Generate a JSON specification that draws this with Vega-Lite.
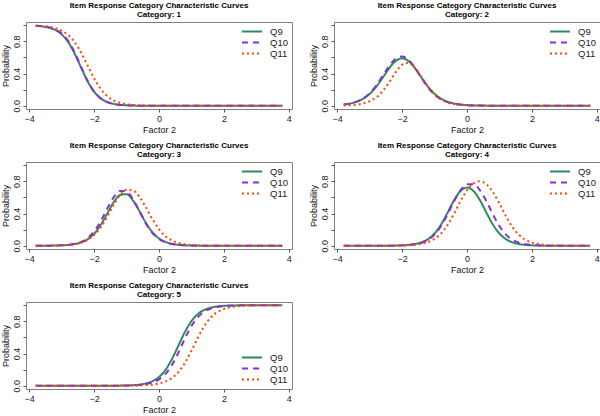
{
  "$schema": "https://vega.github.io/schema/vega-lite/v6.json",
  "background": "white",
  "padding": {"left": 0, "top": 1, "right": 2, "bottom": 0},
  "config": {
    "font": "Liberation Sans",
    "view": {"stroke": "#808080", "strokeWidth": 1},
    "title": {"fontSize": 8, "fontWeight": "bold", "font": "Liberation Sans", "color": "#000000", "lineHeight": 9.5, "offset": 3, "anchor": "middle"},
    "axis": {"grid": false, "domain": false, "tickColor": "#555555", "tickSize": 3, "labelFontSize": 9, "labelColor": "#222222", "labelPadding": 2, "titleFontSize": 9, "titleFontWeight": "normal", "titleColor": "#111111", "titlePadding": 2},
    "legend": {"title": null, "symbolType": "stroke", "symbolSize": 400, "symbolStrokeWidth": 2, "labelFontSize": 9.5, "labelColor": "#222222", "labelOffset": 7, "clipHeight": 11, "rowPadding": 0, "padding": 0, "offset": 4}
  },
  "columns": 2,
  "spacing": {"row": 6, "column": 15},
  "resolve": {"legend": {"color": "independent", "strokeDash": "independent"}},
  "datasets": {
    "d": [
      {"c":1,"s":"Q9","x":-3.8,"p":0.993},{"c":1,"s":"Q9","x":-3.6,"p":0.985},{"c":1,"s":"Q9","x":-3.4,"p":0.970},{"c":1,"s":"Q9","x":-3.2,"p":0.941},{"c":1,"s":"Q9","x":-3.0,"p":0.886},{"c":1,"s":"Q9","x":-2.8,"p":0.791},{"c":1,"s":"Q9","x":-2.6,"p":0.648},{"c":1,"s":"Q9","x":-2.4,"p":0.473},{"c":1,"s":"Q9","x":-2.2,"p":0.304},{"c":1,"s":"Q9","x":-2.0,"p":0.175},{"c":1,"s":"Q9","x":-1.8,"p":0.094},{"c":1,"s":"Q9","x":-1.6,"p":0.048},{"c":1,"s":"Q9","x":-1.4,"p":0.024},{"c":1,"s":"Q9","x":-1.2,"p":0.012},{"c":1,"s":"Q9","x":-1.0,"p":0.006},{"c":1,"s":"Q9","x":-0.8,"p":0.003},{"c":1,"s":"Q9","x":-0.6,"p":0.001},{"c":1,"s":"Q9","x":-0.4,"p":0.001},{"c":1,"s":"Q9","x":-0.2,"p":0},{"c":1,"s":"Q9","x":3.8,"p":0},
      {"c":1,"s":"Q10","x":-3.8,"p":0.994},{"c":1,"s":"Q10","x":-3.6,"p":0.988},{"c":1,"s":"Q10","x":-3.4,"p":0.974},{"c":1,"s":"Q10","x":-3.2,"p":0.947},{"c":1,"s":"Q10","x":-3.0,"p":0.896},{"c":1,"s":"Q10","x":-2.8,"p":0.804},{"c":1,"s":"Q10","x":-2.6,"p":0.661},{"c":1,"s":"Q10","x":-2.4,"p":0.482},{"c":1,"s":"Q10","x":-2.2,"p":0.307},{"c":1,"s":"Q10","x":-2.0,"p":0.175},{"c":1,"s":"Q10","x":-1.8,"p":0.092},{"c":1,"s":"Q10","x":-1.6,"p":0.046},{"c":1,"s":"Q10","x":-1.4,"p":0.022},{"c":1,"s":"Q10","x":-1.2,"p":0.011},{"c":1,"s":"Q10","x":-1.0,"p":0.005},{"c":1,"s":"Q10","x":-0.8,"p":0.002},{"c":1,"s":"Q10","x":-0.6,"p":0.001},{"c":1,"s":"Q10","x":-0.4,"p":0.001},{"c":1,"s":"Q10","x":-0.2,"p":0},{"c":1,"s":"Q10","x":3.8,"p":0},
      {"c":1,"s":"Q11","x":-3.8,"p":0.995},{"c":1,"s":"Q11","x":-3.6,"p":0.990},{"c":1,"s":"Q11","x":-3.4,"p":0.981},{"c":1,"s":"Q11","x":-3.2,"p":0.964},{"c":1,"s":"Q11","x":-3.0,"p":0.933},{"c":1,"s":"Q11","x":-2.8,"p":0.879},{"c":1,"s":"Q11","x":-2.6,"p":0.789},{"c":1,"s":"Q11","x":-2.4,"p":0.659},{"c":1,"s":"Q11","x":-2.2,"p":0.500},{"c":1,"s":"Q11","x":-2.0,"p":0.341},{"c":1,"s":"Q11","x":-1.8,"p":0.211},{"c":1,"s":"Q11","x":-1.6,"p":0.121},{"c":1,"s":"Q11","x":-1.4,"p":0.067},{"c":1,"s":"Q11","x":-1.2,"p":0.036},{"c":1,"s":"Q11","x":-1.0,"p":0.019},{"c":1,"s":"Q11","x":-0.8,"p":0.010},{"c":1,"s":"Q11","x":-0.6,"p":0.005},{"c":1,"s":"Q11","x":-0.4,"p":0.003},{"c":1,"s":"Q11","x":-0.2,"p":0.001},{"c":1,"s":"Q11","x":0,"p":0.001},{"c":1,"s":"Q11","x":0.2,"p":0},{"c":1,"s":"Q11","x":3.8,"p":0},

      {"c":2,"s":"Q9","x":-3.8,"p":0.016},{"c":2,"s":"Q9","x":-3.6,"p":0.029},{"c":2,"s":"Q9","x":-3.4,"p":0.051},{"c":2,"s":"Q9","x":-3.2,"p":0.088},{"c":2,"s":"Q9","x":-3.0,"p":0.148},{"c":2,"s":"Q9","x":-2.8,"p":0.236},{"c":2,"s":"Q9","x":-2.6,"p":0.348},{"c":2,"s":"Q9","x":-2.4,"p":0.465},{"c":2,"s":"Q9","x":-2.2,"p":0.554},{"c":2,"s":"Q9","x":-2.0,"p":0.588},{"c":2,"s":"Q9","x":-1.8,"p":0.554},{"c":2,"s":"Q9","x":-1.6,"p":0.465},{"c":2,"s":"Q9","x":-1.4,"p":0.348},{"c":2,"s":"Q9","x":-1.2,"p":0.236},{"c":2,"s":"Q9","x":-1.0,"p":0.148},{"c":2,"s":"Q9","x":-0.8,"p":0.088},{"c":2,"s":"Q9","x":-0.6,"p":0.051},{"c":2,"s":"Q9","x":-0.4,"p":0.029},{"c":2,"s":"Q9","x":-0.2,"p":0.016},{"c":2,"s":"Q9","x":0,"p":0.009},{"c":2,"s":"Q9","x":0.2,"p":0.005},{"c":2,"s":"Q9","x":0.4,"p":0.003},{"c":2,"s":"Q9","x":0.6,"p":0.002},{"c":2,"s":"Q9","x":0.8,"p":0.001},{"c":2,"s":"Q9","x":1.0,"p":0},{"c":2,"s":"Q9","x":3.8,"p":0},
      {"c":2,"s":"Q10","x":-3.8,"p":0.015},{"c":2,"s":"Q10","x":-3.6,"p":0.028},{"c":2,"s":"Q10","x":-3.4,"p":0.052},{"c":2,"s":"Q10","x":-3.2,"p":0.091},{"c":2,"s":"Q10","x":-3.0,"p":0.156},{"c":2,"s":"Q10","x":-2.8,"p":0.250},{"c":2,"s":"Q10","x":-2.6,"p":0.371},{"c":2,"s":"Q10","x":-2.4,"p":0.493},{"c":2,"s":"Q10","x":-2.2,"p":0.584},{"c":2,"s":"Q10","x":-2.0,"p":0.612},{"c":2,"s":"Q10","x":-1.8,"p":0.569},{"c":2,"s":"Q10","x":-1.6,"p":0.469},{"c":2,"s":"Q10","x":-1.4,"p":0.344},{"c":2,"s":"Q10","x":-1.2,"p":0.227},{"c":2,"s":"Q10","x":-1.0,"p":0.139},{"c":2,"s":"Q10","x":-0.8,"p":0.081},{"c":2,"s":"Q10","x":-0.6,"p":0.045},{"c":2,"s":"Q10","x":-0.4,"p":0.025},{"c":2,"s":"Q10","x":-0.2,"p":0.014},{"c":2,"s":"Q10","x":0,"p":0.008},{"c":2,"s":"Q10","x":0.2,"p":0.004},{"c":2,"s":"Q10","x":0.4,"p":0.002},{"c":2,"s":"Q10","x":0.6,"p":0.001},{"c":2,"s":"Q10","x":0.8,"p":0.001},{"c":2,"s":"Q10","x":1.0,"p":0},{"c":2,"s":"Q10","x":3.8,"p":0},
      {"c":2,"s":"Q11","x":-3.8,"p":0.004},{"c":2,"s":"Q11","x":-3.6,"p":0.008},{"c":2,"s":"Q11","x":-3.4,"p":0.015},{"c":2,"s":"Q11","x":-3.2,"p":0.029},{"c":2,"s":"Q11","x":-3.0,"p":0.056},{"c":2,"s":"Q11","x":-2.8,"p":0.103},{"c":2,"s":"Q11","x":-2.6,"p":0.181},{"c":2,"s":"Q11","x":-2.4,"p":0.291},{"c":2,"s":"Q11","x":-2.2,"p":0.415},{"c":2,"s":"Q11","x":-2.0,"p":0.510},{"c":2,"s":"Q11","x":-1.8,"p":0.531},{"c":2,"s":"Q11","x":-1.6,"p":0.469},{"c":2,"s":"Q11","x":-1.4,"p":0.354},{"c":2,"s":"Q11","x":-1.2,"p":0.233},{"c":2,"s":"Q11","x":-1.0,"p":0.137},{"c":2,"s":"Q11","x":-0.8,"p":0.077},{"c":2,"s":"Q11","x":-0.6,"p":0.041},{"c":2,"s":"Q11","x":-0.4,"p":0.021},{"c":2,"s":"Q11","x":-0.2,"p":0.011},{"c":2,"s":"Q11","x":0,"p":0.006},{"c":2,"s":"Q11","x":0.2,"p":0.003},{"c":2,"s":"Q11","x":0.4,"p":0.002},{"c":2,"s":"Q11","x":0.6,"p":0.001},{"c":2,"s":"Q11","x":0.8,"p":0},{"c":2,"s":"Q11","x":3.8,"p":0},

      {"c":3,"s":"Q9","x":-3.8,"p":0},{"c":3,"s":"Q9","x":-3.6,"p":0.001},{"c":3,"s":"Q9","x":-3.4,"p":0.001},{"c":3,"s":"Q9","x":-3.2,"p":0.003},{"c":3,"s":"Q9","x":-3.0,"p":0.006},{"c":3,"s":"Q9","x":-2.8,"p":0.010},{"c":3,"s":"Q9","x":-2.6,"p":0.021},{"c":3,"s":"Q9","x":-2.4,"p":0.042},{"c":3,"s":"Q9","x":-2.2,"p":0.081},{"c":3,"s":"Q9","x":-2.0,"p":0.149},{"c":3,"s":"Q9","x":-1.8,"p":0.256},{"c":3,"s":"Q9","x":-1.6,"p":0.396},{"c":3,"s":"Q9","x":-1.4,"p":0.538},{"c":3,"s":"Q9","x":-1.2,"p":0.631},{"c":3,"s":"Q9","x":-1.0,"p":0.640},{"c":3,"s":"Q9","x":-0.8,"p":0.562},{"c":3,"s":"Q9","x":-0.6,"p":0.427},{"c":3,"s":"Q9","x":-0.4,"p":0.282},{"c":3,"s":"Q9","x":-0.2,"p":0.167},{"c":3,"s":"Q9","x":0,"p":0.091},{"c":3,"s":"Q9","x":0.2,"p":0.048},{"c":3,"s":"Q9","x":0.4,"p":0.025},{"c":3,"s":"Q9","x":0.6,"p":0.012},{"c":3,"s":"Q9","x":0.8,"p":0.006},{"c":3,"s":"Q9","x":1.0,"p":0.003},{"c":3,"s":"Q9","x":1.2,"p":0.002},{"c":3,"s":"Q9","x":1.4,"p":0.001},{"c":3,"s":"Q9","x":1.6,"p":0},{"c":3,"s":"Q9","x":3.8,"p":0},
      {"c":3,"s":"Q10","x":-3.8,"p":0},{"c":3,"s":"Q10","x":-3.6,"p":0.001},{"c":3,"s":"Q10","x":-3.4,"p":0.001},{"c":3,"s":"Q10","x":-3.2,"p":0.003},{"c":3,"s":"Q10","x":-3.0,"p":0.006},{"c":3,"s":"Q10","x":-2.8,"p":0.013},{"c":3,"s":"Q10","x":-2.6,"p":0.025},{"c":3,"s":"Q10","x":-2.4,"p":0.049},{"c":3,"s":"Q10","x":-2.2,"p":0.096},{"c":3,"s":"Q10","x":-2.0,"p":0.177},{"c":3,"s":"Q10","x":-1.8,"p":0.303},{"c":3,"s":"Q10","x":-1.6,"p":0.458},{"c":3,"s":"Q10","x":-1.4,"p":0.601},{"c":3,"s":"Q10","x":-1.2,"p":0.681},{"c":3,"s":"Q10","x":-1.0,"p":0.672},{"c":3,"s":"Q10","x":-0.8,"p":0.577},{"c":3,"s":"Q10","x":-0.6,"p":0.427},{"c":3,"s":"Q10","x":-0.4,"p":0.275},{"c":3,"s":"Q10","x":-0.2,"p":0.158},{"c":3,"s":"Q10","x":0,"p":0.085},{"c":3,"s":"Q10","x":0.2,"p":0.043},{"c":3,"s":"Q10","x":0.4,"p":0.021},{"c":3,"s":"Q10","x":0.6,"p":0.010},{"c":3,"s":"Q10","x":0.8,"p":0.005},{"c":3,"s":"Q10","x":1.0,"p":0.002},{"c":3,"s":"Q10","x":1.2,"p":0.001},{"c":3,"s":"Q10","x":1.4,"p":0.001},{"c":3,"s":"Q10","x":1.6,"p":0},{"c":3,"s":"Q10","x":3.8,"p":0},
      {"c":3,"s":"Q11","x":-3.8,"p":0},{"c":3,"s":"Q11","x":-3.6,"p":0.001},{"c":3,"s":"Q11","x":-3.4,"p":0.002},{"c":3,"s":"Q11","x":-3.2,"p":0.003},{"c":3,"s":"Q11","x":-3.0,"p":0.006},{"c":3,"s":"Q11","x":-2.8,"p":0.011},{"c":3,"s":"Q11","x":-2.6,"p":0.022},{"c":3,"s":"Q11","x":-2.4,"p":0.040},{"c":3,"s":"Q11","x":-2.2,"p":0.074},{"c":3,"s":"Q11","x":-2.0,"p":0.133},{"c":3,"s":"Q11","x":-1.8,"p":0.227},{"c":3,"s":"Q11","x":-1.6,"p":0.357},{"c":3,"s":"Q11","x":-1.4,"p":0.502},{"c":3,"s":"Q11","x":-1.2,"p":0.627},{"c":3,"s":"Q11","x":-1.0,"p":0.694},{"c":3,"s":"Q11","x":-0.8,"p":0.686},{"c":3,"s":"Q11","x":-0.6,"p":0.606},{"c":3,"s":"Q11","x":-0.4,"p":0.474},{"c":3,"s":"Q11","x":-0.2,"p":0.329},{"c":3,"s":"Q11","x":0,"p":0.206},{"c":3,"s":"Q11","x":0.2,"p":0.119},{"c":3,"s":"Q11","x":0.4,"p":0.066},{"c":3,"s":"Q11","x":0.6,"p":0.035},{"c":3,"s":"Q11","x":0.8,"p":0.018},{"c":3,"s":"Q11","x":1.0,"p":0.009},{"c":3,"s":"Q11","x":1.2,"p":0.005},{"c":3,"s":"Q11","x":1.4,"p":0.002},{"c":3,"s":"Q11","x":1.6,"p":0.001},{"c":3,"s":"Q11","x":1.8,"p":0.001},{"c":3,"s":"Q11","x":2.0,"p":0},{"c":3,"s":"Q11","x":3.8,"p":0},

      {"c":4,"s":"Q9","x":-3.8,"p":0},{"c":4,"s":"Q9","x":-2.8,"p":0},{"c":4,"s":"Q9","x":-2.6,"p":0.001},{"c":4,"s":"Q9","x":-2.4,"p":0.001},{"c":4,"s":"Q9","x":-2.2,"p":0.003},{"c":4,"s":"Q9","x":-2.0,"p":0.005},{"c":4,"s":"Q9","x":-1.8,"p":0.011},{"c":4,"s":"Q9","x":-1.6,"p":0.021},{"c":4,"s":"Q9","x":-1.4,"p":0.043},{"c":4,"s":"Q9","x":-1.2,"p":0.083},{"c":4,"s":"Q9","x":-1.0,"p":0.152},{"c":4,"s":"Q9","x":-0.8,"p":0.263},{"c":4,"s":"Q9","x":-0.6,"p":0.410},{"c":4,"s":"Q9","x":-0.4,"p":0.565},{"c":4,"s":"Q9","x":-0.2,"p":0.680},{"c":4,"s":"Q9","x":0,"p":0.722},{"c":4,"s":"Q9","x":0.2,"p":0.680},{"c":4,"s":"Q9","x":0.4,"p":0.565},{"c":4,"s":"Q9","x":0.6,"p":0.410},{"c":4,"s":"Q9","x":0.8,"p":0.263},{"c":4,"s":"Q9","x":1.0,"p":0.152},{"c":4,"s":"Q9","x":1.2,"p":0.083},{"c":4,"s":"Q9","x":1.4,"p":0.043},{"c":4,"s":"Q9","x":1.6,"p":0.021},{"c":4,"s":"Q9","x":1.8,"p":0.011},{"c":4,"s":"Q9","x":2.0,"p":0.005},{"c":4,"s":"Q9","x":2.2,"p":0.003},{"c":4,"s":"Q9","x":2.4,"p":0.001},{"c":4,"s":"Q9","x":2.6,"p":0.001},{"c":4,"s":"Q9","x":2.8,"p":0},{"c":4,"s":"Q9","x":3.8,"p":0},
      {"c":4,"s":"Q10","x":-3.8,"p":0},{"c":4,"s":"Q10","x":-2.8,"p":0},{"c":4,"s":"Q10","x":-2.6,"p":0.001},{"c":4,"s":"Q10","x":-2.4,"p":0.001},{"c":4,"s":"Q10","x":-2.2,"p":0.002},{"c":4,"s":"Q10","x":-2.0,"p":0.005},{"c":4,"s":"Q10","x":-1.8,"p":0.010},{"c":4,"s":"Q10","x":-1.6,"p":0.020},{"c":4,"s":"Q10","x":-1.4,"p":0.038},{"c":4,"s":"Q10","x":-1.2,"p":0.075},{"c":4,"s":"Q10","x":-1.0,"p":0.139},{"c":4,"s":"Q10","x":-0.8,"p":0.245},{"c":4,"s":"Q10","x":-0.6,"p":0.390},{"c":4,"s":"Q10","x":-0.4,"p":0.552},{"c":4,"s":"Q10","x":-0.2,"p":0.688},{"c":4,"s":"Q10","x":0,"p":0.763},{"c":4,"s":"Q10","x":0.2,"p":0.763},{"c":4,"s":"Q10","x":0.4,"p":0.688},{"c":4,"s":"Q10","x":0.6,"p":0.552},{"c":4,"s":"Q10","x":0.8,"p":0.390},{"c":4,"s":"Q10","x":1.0,"p":0.245},{"c":4,"s":"Q10","x":1.2,"p":0.139},{"c":4,"s":"Q10","x":1.4,"p":0.075},{"c":4,"s":"Q10","x":1.6,"p":0.038},{"c":4,"s":"Q10","x":1.8,"p":0.020},{"c":4,"s":"Q10","x":2.0,"p":0.010},{"c":4,"s":"Q10","x":2.2,"p":0.005},{"c":4,"s":"Q10","x":2.4,"p":0.002},{"c":4,"s":"Q10","x":2.6,"p":0.001},{"c":4,"s":"Q10","x":2.8,"p":0.001},{"c":4,"s":"Q10","x":3.0,"p":0},{"c":4,"s":"Q10","x":3.8,"p":0},
      {"c":4,"s":"Q11","x":-3.8,"p":0},{"c":4,"s":"Q11","x":-2.6,"p":0},{"c":4,"s":"Q11","x":-2.4,"p":0.001},{"c":4,"s":"Q11","x":-2.2,"p":0.002},{"c":4,"s":"Q11","x":-2.0,"p":0.003},{"c":4,"s":"Q11","x":-1.8,"p":0.007},{"c":4,"s":"Q11","x":-1.6,"p":0.013},{"c":4,"s":"Q11","x":-1.4,"p":0.025},{"c":4,"s":"Q11","x":-1.2,"p":0.046},{"c":4,"s":"Q11","x":-1.0,"p":0.085},{"c":4,"s":"Q11","x":-0.8,"p":0.152},{"c":4,"s":"Q11","x":-0.6,"p":0.257},{"c":4,"s":"Q11","x":-0.4,"p":0.398},{"c":4,"s":"Q11","x":-0.2,"p":0.554},{"c":4,"s":"Q11","x":0,"p":0.688},{"c":4,"s":"Q11","x":0.2,"p":0.774},{"c":4,"s":"Q11","x":0.4,"p":0.800},{"c":4,"s":"Q11","x":0.6,"p":0.762},{"c":4,"s":"Q11","x":0.8,"p":0.665},{"c":4,"s":"Q11","x":1.0,"p":0.523},{"c":4,"s":"Q11","x":1.2,"p":0.368},{"c":4,"s":"Q11","x":1.4,"p":0.233},{"c":4,"s":"Q11","x":1.6,"p":0.136},{"c":4,"s":"Q11","x":1.8,"p":0.076},{"c":4,"s":"Q11","x":2.0,"p":0.040},{"c":4,"s":"Q11","x":2.2,"p":0.022},{"c":4,"s":"Q11","x":2.4,"p":0.011},{"c":4,"s":"Q11","x":2.6,"p":0.006},{"c":4,"s":"Q11","x":2.8,"p":0.003},{"c":4,"s":"Q11","x":3.0,"p":0.001},{"c":4,"s":"Q11","x":3.2,"p":0.001},{"c":4,"s":"Q11","x":3.4,"p":0},{"c":4,"s":"Q11","x":3.8,"p":0},

      {"c":5,"s":"Q9","x":-3.8,"p":0},{"c":5,"s":"Q9","x":-1.6,"p":0},{"c":5,"s":"Q9","x":-1.4,"p":0.001},{"c":5,"s":"Q9","x":-1.2,"p":0.002},{"c":5,"s":"Q9","x":-1.0,"p":0.004},{"c":5,"s":"Q9","x":-0.8,"p":0.007},{"c":5,"s":"Q9","x":-0.6,"p":0.015},{"c":5,"s":"Q9","x":-0.4,"p":0.029},{"c":5,"s":"Q9","x":-0.2,"p":0.057},{"c":5,"s":"Q9","x":0,"p":0.109},{"c":5,"s":"Q9","x":0.2,"p":0.198},{"c":5,"s":"Q9","x":0.4,"p":0.332},{"c":5,"s":"Q9","x":0.6,"p":0.500},{"c":5,"s":"Q9","x":0.8,"p":0.668},{"c":5,"s":"Q9","x":1.0,"p":0.802},{"c":5,"s":"Q9","x":1.2,"p":0.891},{"c":5,"s":"Q9","x":1.4,"p":0.943},{"c":5,"s":"Q9","x":1.6,"p":0.971},{"c":5,"s":"Q9","x":1.8,"p":0.985},{"c":5,"s":"Q9","x":2.0,"p":0.993},{"c":5,"s":"Q9","x":2.2,"p":0.996},{"c":5,"s":"Q9","x":2.4,"p":0.998},{"c":5,"s":"Q9","x":2.6,"p":0.999},{"c":5,"s":"Q9","x":2.8,"p":1},{"c":5,"s":"Q9","x":3.8,"p":1},
      {"c":5,"s":"Q10","x":-3.8,"p":0},{"c":5,"s":"Q10","x":-1.6,"p":0},{"c":5,"s":"Q10","x":-1.4,"p":0.001},{"c":5,"s":"Q10","x":-1.2,"p":0.001},{"c":5,"s":"Q10","x":-1.0,"p":0.003},{"c":5,"s":"Q10","x":-0.8,"p":0.005},{"c":5,"s":"Q10","x":-0.6,"p":0.010},{"c":5,"s":"Q10","x":-0.4,"p":0.021},{"c":5,"s":"Q10","x":-0.2,"p":0.041},{"c":5,"s":"Q10","x":0,"p":0.079},{"c":5,"s":"Q10","x":0.2,"p":0.148},{"c":5,"s":"Q10","x":0.4,"p":0.259},{"c":5,"s":"Q10","x":0.6,"p":0.413},{"c":5,"s":"Q10","x":0.8,"p":0.587},{"c":5,"s":"Q10","x":1.0,"p":0.741},{"c":5,"s":"Q10","x":1.2,"p":0.852},{"c":5,"s":"Q10","x":1.4,"p":0.921},{"c":5,"s":"Q10","x":1.6,"p":0.959},{"c":5,"s":"Q10","x":1.8,"p":0.979},{"c":5,"s":"Q10","x":2.0,"p":0.990},{"c":5,"s":"Q10","x":2.2,"p":0.995},{"c":5,"s":"Q10","x":2.4,"p":0.997},{"c":5,"s":"Q10","x":2.6,"p":0.999},{"c":5,"s":"Q10","x":2.8,"p":0.999},{"c":5,"s":"Q10","x":3.0,"p":1},{"c":5,"s":"Q10","x":3.8,"p":1},
      {"c":5,"s":"Q11","x":-3.8,"p":0},{"c":5,"s":"Q11","x":-1.4,"p":0},{"c":5,"s":"Q11","x":-1.2,"p":0.001},{"c":5,"s":"Q11","x":-1.0,"p":0.001},{"c":5,"s":"Q11","x":-0.8,"p":0.002},{"c":5,"s":"Q11","x":-0.6,"p":0.004},{"c":5,"s":"Q11","x":-0.4,"p":0.008},{"c":5,"s":"Q11","x":-0.2,"p":0.014},{"c":5,"s":"Q11","x":0,"p":0.028},{"c":5,"s":"Q11","x":0.2,"p":0.052},{"c":5,"s":"Q11","x":0.4,"p":0.096},{"c":5,"s":"Q11","x":0.6,"p":0.171},{"c":5,"s":"Q11","x":0.8,"p":0.285},{"c":5,"s":"Q11","x":1.0,"p":0.435},{"c":5,"s":"Q11","x":1.2,"p":0.599},{"c":5,"s":"Q11","x":1.4,"p":0.743},{"c":5,"s":"Q11","x":1.6,"p":0.848},{"c":5,"s":"Q11","x":1.8,"p":0.915},{"c":5,"s":"Q11","x":2.0,"p":0.954},{"c":5,"s":"Q11","x":2.2,"p":0.976},{"c":5,"s":"Q11","x":2.4,"p":0.987},{"c":5,"s":"Q11","x":2.6,"p":0.993},{"c":5,"s":"Q11","x":2.8,"p":0.997},{"c":5,"s":"Q11","x":3.0,"p":0.998},{"c":5,"s":"Q11","x":3.2,"p":0.999},{"c":5,"s":"Q11","x":3.4,"p":0.999},{"c":5,"s":"Q11","x":3.6,"p":1},{"c":5,"s":"Q11","x":3.8,"p":1}
    ]
  },
  "concat": [
    {
      "width": 266, "height": 87,
      "title": {"text": ["Item Response Category Characteristic Curves", "Category: 1"]},
      "data": {"name": "d"},
      "transform": [{"filter": "datum.c == 1"}],
      "mark": {"type": "line", "strokeWidth": 2, "interpolate": "monotone", "clip": true},
      "encoding": {
        "x": {"field": "x", "type": "quantitative", "scale": {"domain": [-4.1, 4.1], "nice": false, "zero": false}, "axis": {"values": [-4, -2, 0, 2, 4], "title": "Factor 2"}},
        "y": {"field": "p", "type": "quantitative", "scale": {"domain": [-0.04, 1.04], "nice": false}, "axis": {"values": [0, 0.2, 0.4, 0.6, 0.8, 1], "labelExpr": "round(datum.value * 10) % 4 == 0 ? format(datum.value, '.1f') : ''", "labelAngle": -90, "labelAlign": "center", "labelBaseline": "bottom", "title": "Probability"}},
        "color": {"field": "s", "type": "nominal", "scale": {"domain": ["Q9", "Q10", "Q11"], "range": ["#2E8B57", "#8A2BE2", "#FF4500"]}, "legend": {"orient": "top-right"}},
        "strokeDash": {"field": "s", "type": "nominal", "scale": {"domain": ["Q9", "Q10", "Q11"], "range": [[1, 0], [6, 5], [2, 3]]}, "legend": {"orient": "top-right"}}
      }
    },
    {
      "width": 266, "height": 87,
      "title": {"text": ["Item Response Category Characteristic Curves", "Category: 2"]},
      "data": {"name": "d"},
      "transform": [{"filter": "datum.c == 2"}],
      "mark": {"type": "line", "strokeWidth": 2, "interpolate": "monotone", "clip": true},
      "encoding": {
        "x": {"field": "x", "type": "quantitative", "scale": {"domain": [-4.1, 4.1], "nice": false, "zero": false}, "axis": {"values": [-4, -2, 0, 2, 4], "title": "Factor 2"}},
        "y": {"field": "p", "type": "quantitative", "scale": {"domain": [-0.04, 1.04], "nice": false}, "axis": {"values": [0, 0.2, 0.4, 0.6, 0.8, 1], "labelExpr": "round(datum.value * 10) % 4 == 0 ? format(datum.value, '.1f') : ''", "labelAngle": -90, "labelAlign": "center", "labelBaseline": "bottom", "title": "Probability"}},
        "color": {"field": "s", "type": "nominal", "scale": {"domain": ["Q9", "Q10", "Q11"], "range": ["#2E8B57", "#8A2BE2", "#FF4500"]}, "legend": {"orient": "top-right"}},
        "strokeDash": {"field": "s", "type": "nominal", "scale": {"domain": ["Q9", "Q10", "Q11"], "range": [[1, 0], [6, 5], [2, 3]]}, "legend": {"orient": "top-right"}}
      }
    },
    {
      "width": 266, "height": 87,
      "title": {"text": ["Item Response Category Characteristic Curves", "Category: 3"]},
      "data": {"name": "d"},
      "transform": [{"filter": "datum.c == 3"}],
      "mark": {"type": "line", "strokeWidth": 2, "interpolate": "monotone", "clip": true},
      "encoding": {
        "x": {"field": "x", "type": "quantitative", "scale": {"domain": [-4.1, 4.1], "nice": false, "zero": false}, "axis": {"values": [-4, -2, 0, 2, 4], "title": "Factor 2"}},
        "y": {"field": "p", "type": "quantitative", "scale": {"domain": [-0.04, 1.04], "nice": false}, "axis": {"values": [0, 0.2, 0.4, 0.6, 0.8, 1], "labelExpr": "round(datum.value * 10) % 4 == 0 ? format(datum.value, '.1f') : ''", "labelAngle": -90, "labelAlign": "center", "labelBaseline": "bottom", "title": "Probability"}},
        "color": {"field": "s", "type": "nominal", "scale": {"domain": ["Q9", "Q10", "Q11"], "range": ["#2E8B57", "#8A2BE2", "#FF4500"]}, "legend": {"orient": "top-right"}},
        "strokeDash": {"field": "s", "type": "nominal", "scale": {"domain": ["Q9", "Q10", "Q11"], "range": [[1, 0], [6, 5], [2, 3]]}, "legend": {"orient": "top-right"}}
      }
    },
    {
      "width": 266, "height": 87,
      "title": {"text": ["Item Response Category Characteristic Curves", "Category: 4"]},
      "data": {"name": "d"},
      "transform": [{"filter": "datum.c == 4"}],
      "mark": {"type": "line", "strokeWidth": 2, "interpolate": "monotone", "clip": true},
      "encoding": {
        "x": {"field": "x", "type": "quantitative", "scale": {"domain": [-4.1, 4.1], "nice": false, "zero": false}, "axis": {"values": [-4, -2, 0, 2, 4], "title": "Factor 2"}},
        "y": {"field": "p", "type": "quantitative", "scale": {"domain": [-0.04, 1.04], "nice": false}, "axis": {"values": [0, 0.2, 0.4, 0.6, 0.8, 1], "labelExpr": "round(datum.value * 10) % 4 == 0 ? format(datum.value, '.1f') : ''", "labelAngle": -90, "labelAlign": "center", "labelBaseline": "bottom", "title": "Probability"}},
        "color": {"field": "s", "type": "nominal", "scale": {"domain": ["Q9", "Q10", "Q11"], "range": ["#2E8B57", "#8A2BE2", "#FF4500"]}, "legend": {"orient": "top-right"}},
        "strokeDash": {"field": "s", "type": "nominal", "scale": {"domain": ["Q9", "Q10", "Q11"], "range": [[1, 0], [6, 5], [2, 3]]}, "legend": {"orient": "top-right"}}
      }
    },
    {
      "width": 266, "height": 87,
      "title": {"text": ["Item Response Category Characteristic Curves", "Category: 5"]},
      "data": {"name": "d"},
      "transform": [{"filter": "datum.c == 5"}],
      "mark": {"type": "line", "strokeWidth": 2, "interpolate": "monotone", "clip": true},
      "encoding": {
        "x": {"field": "x", "type": "quantitative", "scale": {"domain": [-4.1, 4.1], "nice": false, "zero": false}, "axis": {"values": [-4, -2, 0, 2, 4], "title": "Factor 2"}},
        "y": {"field": "p", "type": "quantitative", "scale": {"domain": [-0.04, 1.04], "nice": false}, "axis": {"values": [0, 0.2, 0.4, 0.6, 0.8, 1], "labelExpr": "round(datum.value * 10) % 4 == 0 ? format(datum.value, '.1f') : ''", "labelAngle": -90, "labelAlign": "center", "labelBaseline": "bottom", "title": "Probability"}},
        "color": {"field": "s", "type": "nominal", "scale": {"domain": ["Q9", "Q10", "Q11"], "range": ["#2E8B57", "#8A2BE2", "#FF4500"]}, "legend": {"orient": "bottom-right"}},
        "strokeDash": {"field": "s", "type": "nominal", "scale": {"domain": ["Q9", "Q10", "Q11"], "range": [[1, 0], [6, 5], [2, 3]]}, "legend": {"orient": "bottom-right"}}
      }
    }
  ]
}
